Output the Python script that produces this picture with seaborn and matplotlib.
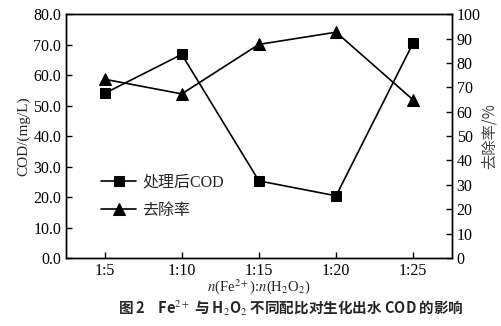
import matplotlib
matplotlib.use("Agg")
import matplotlib.pyplot as plt
import seaborn as sns
import pandas as pd

ratios = ["1:5", "1:10", "1:15", "1:20", "1:25"]
cod_after = [54.0, 66.8, 25.3, 20.4, 70.6]
removal = [73.3, 67.3, 87.6, 92.6, 64.8]

sns.set_theme(style="ticks")
plt.rcParams['font.family'] = ['Liberation Serif', 'Noto Sans CJK SC', 'DejaVu Sans']
plt.rcParams['mathtext.fontset'] = 'stix'

df = pd.DataFrame({"ratio": ratios, "pos": range(len(ratios)), "cod": cod_after, "removal": removal})

fig = plt.figure(figsize=(5.02, 3.26), dpi=100)
ax = fig.add_axes([0.1315, 0.2086, 0.7685, 0.748])
ax2 = ax.twinx()

sns.lineplot(data=df, x="pos", y="cod", ax=ax, color="black", marker="s", markersize=7,
             linewidth=1.2, markeredgecolor="black", label="处理后COD", legend=False)
sns.lineplot(data=df, x="pos", y="removal", ax=ax2, color="black", marker="^", markersize=8,
             linewidth=1.2, markeredgecolor="black", label="去除率", legend=False)

ax.set_xlim(-0.5, 4.5)
ax.set_ylim(0, 80)
ax2.set_ylim(0, 100)
ax.set_xticks(range(len(ratios)))
ax.set_xticklabels(ratios)
ax.set_yticks(range(0, 81, 10))
ax.set_yticklabels([f"{v:.1f}" for v in range(0, 81, 10)])
ax2.set_yticks(range(0, 101, 10))

for a in (ax, ax2):
    a.tick_params(direction="in", length=4, width=1, labelsize=11.5, colors="black")
    for s in a.spines.values():
        s.set_visible(True)
        s.set_color("black")
        s.set_linewidth(1.0)

ax.set_ylabel("COD/(mg/L)", fontsize=11, labelpad=2)
ax2.set_ylabel("去除率/%", fontsize=11, labelpad=0, family=['Noto Sans CJK SC', 'DejaVu Sans'], color="#444444")
ax.set_xlabel(r"$n$(Fe$^{2+}$):$n$(H$_2$O$_2$)", fontsize=10.5, labelpad=2)
ax.xaxis.set_label_coords(0.5, -0.08)

h1, l1 = ax.get_legend_handles_labels()
h2, l2 = ax2.get_legend_handles_labels()
leg = ax.legend(h1 + h2, l1 + l2, loc="lower left", bbox_to_anchor=(0.07, 0.128), frameon=False,
                handlelength=2.2, labelspacing=0.75, borderpad=0, handletextpad=0.4,
                prop={'family': ['Liberation Serif', 'Noto Sans CJK SC'], 'size': 11.5})

fig.text(0.58, 0.055, r"图 2    Fe$^{2+}$ 与 H$_2$O$_2$ 不同配比对生化出水 COD 的影响",
         ha="center", va="center", fontsize=10.5, fontweight="bold",
         family=['Noto Sans CJK SC', 'Liberation Serif'])

fig.savefig("out.png", dpi=100)
